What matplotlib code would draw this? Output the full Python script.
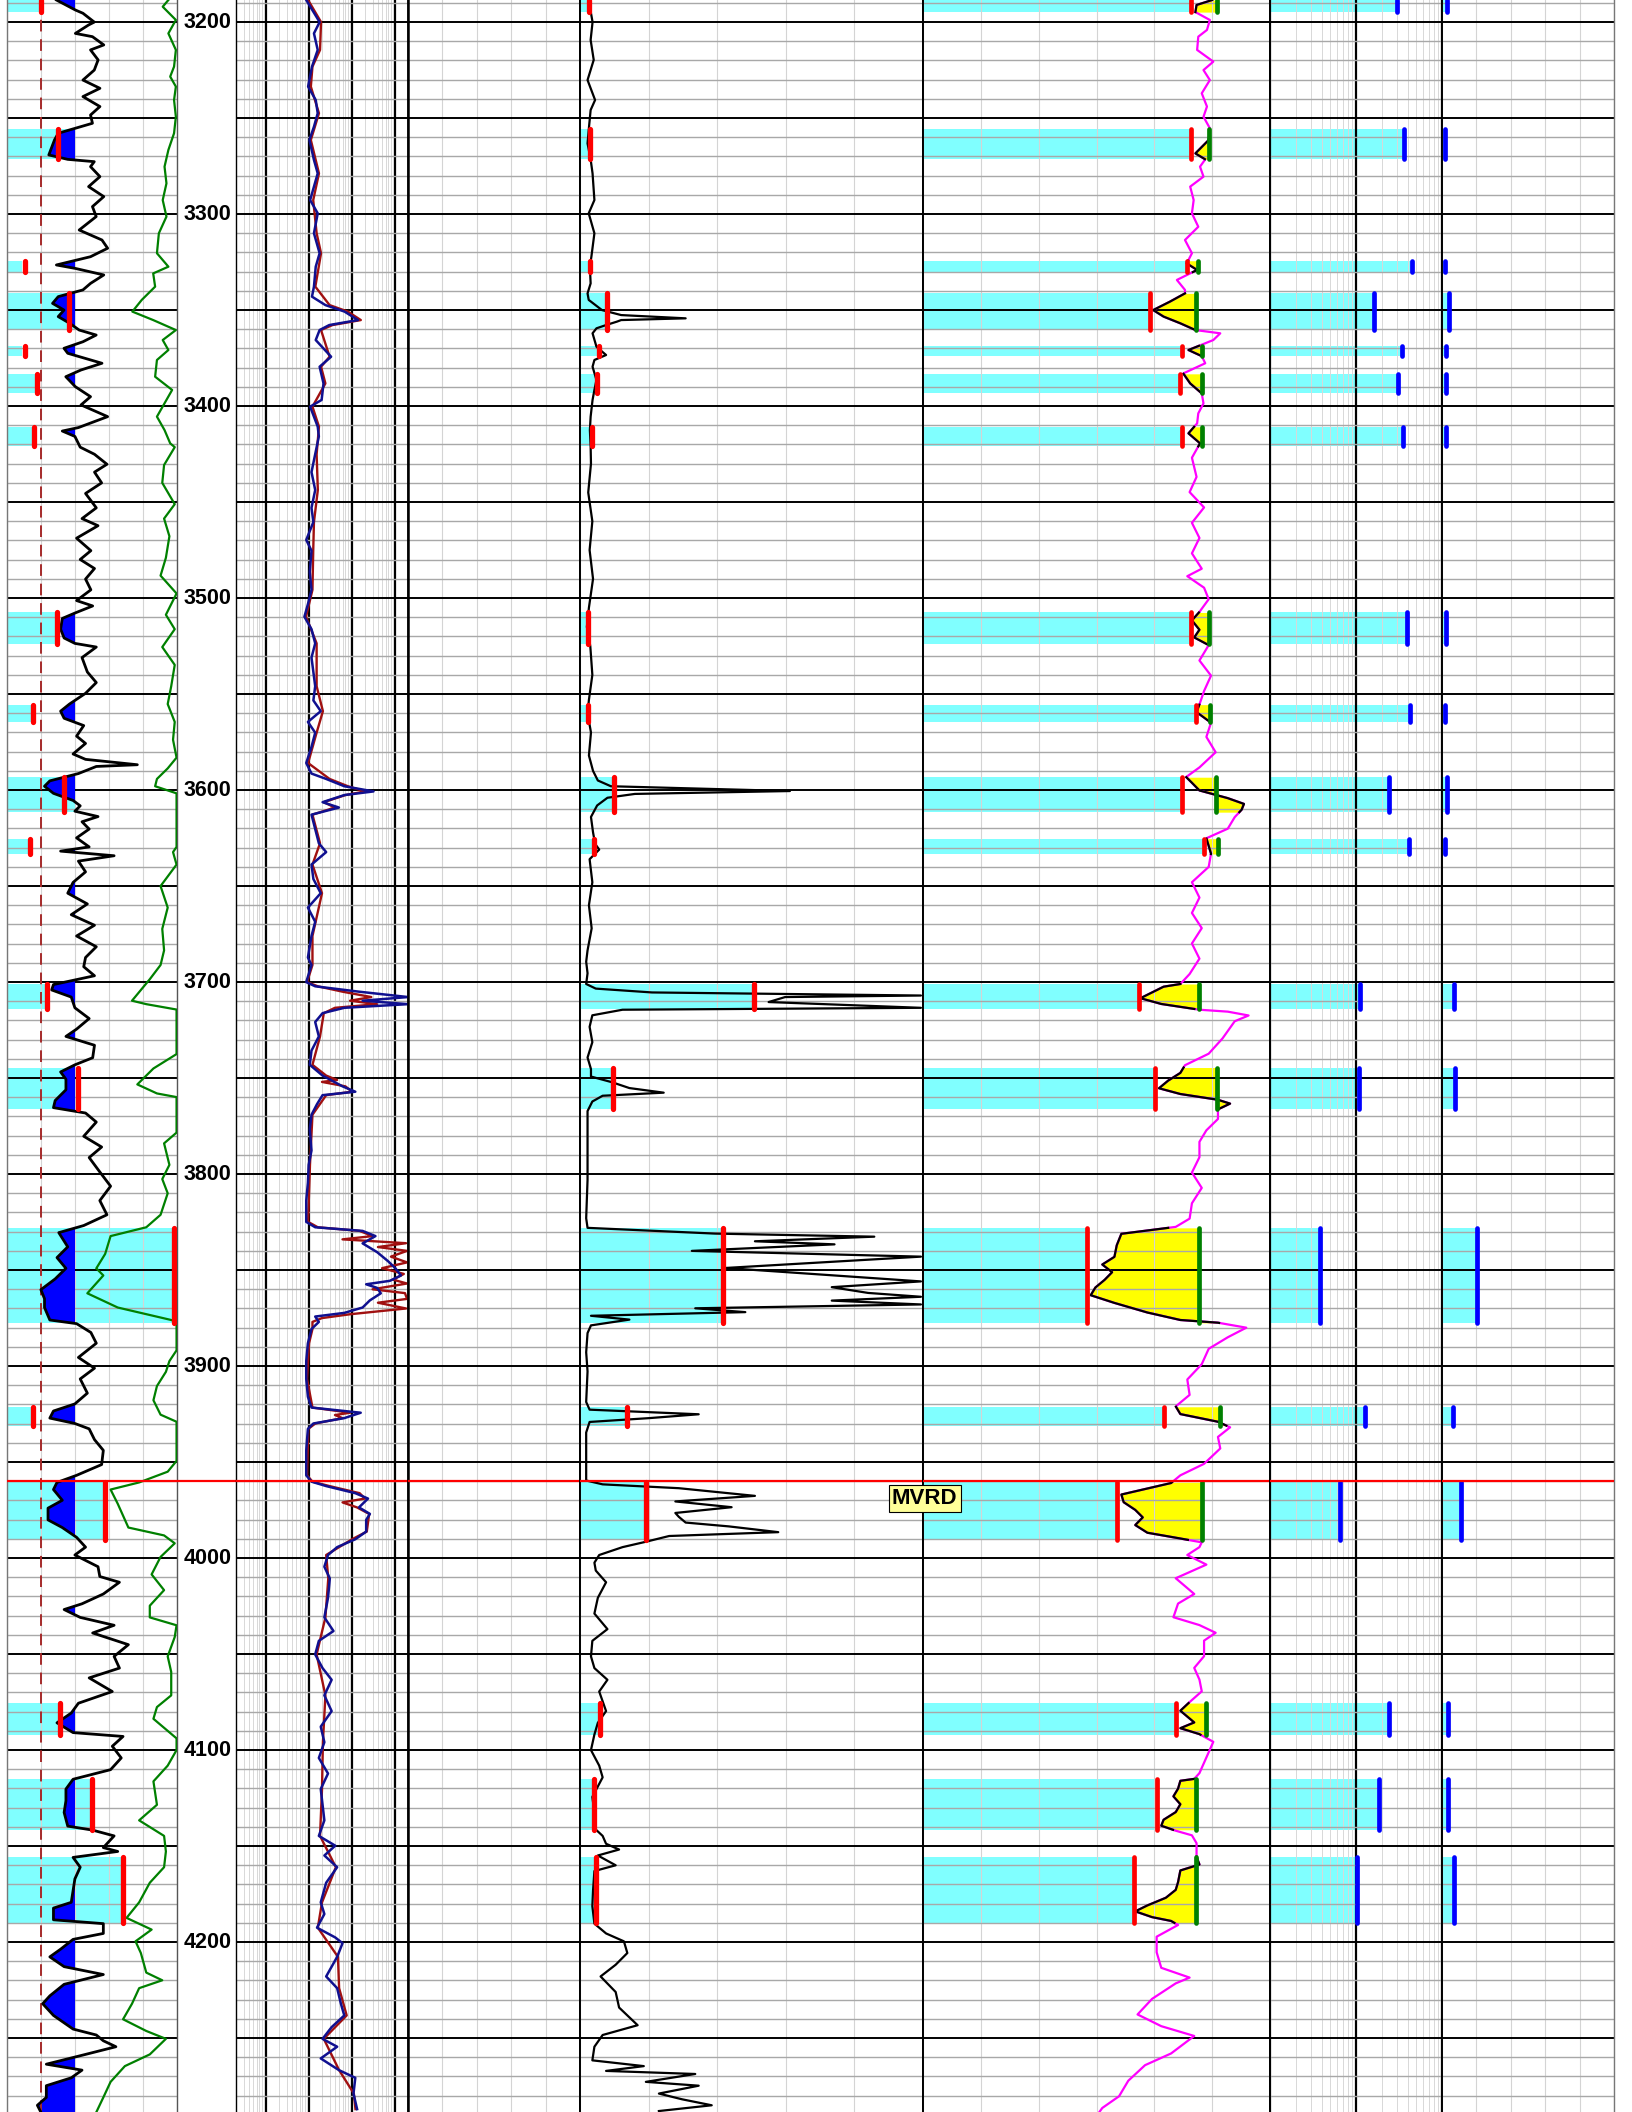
import numpy as np
import matplotlib.pyplot as plt
from matplotlib.ticker import MultipleLocator, LogLocator, NullFormatter

plt.rcParams['font.family'] = ['Liberation Sans Narrow', 'Liberation Sans', 'DejaVu Sans']

top_depth = 3188.5
base_depth = 4288.5
mvrd_depth = 3960.0
depth_labels = list(range(3200, 4201, 100))

# pay zones (top, base) shared by all tracks
zone_top = [3188.5, 3255.8, 3324.3, 3341.3, 3368.6, 3383.2, 3410.8, 3507.5, 3555.5, 3593.3,
            3625.3, 3701.0, 3744.5, 3828.0, 3921.2, 3960.5, 4075.5, 4115.0, 4155.5]
zone_base = [3194.8, 3271.4, 3330.2, 3360.5, 3373.8, 3393.3, 3421.0, 3524.0, 3564.5, 3611.5,
             3633.3, 3714.0, 3766.0, 3877.5, 3931.0, 3990.5, 4092.0, 4141.5, 4190.0]
t1_fill = [29, 60, 13.5, 60, 13.5, 25, 23, 44, 23, 60, 19.5, 35, 60, 147, 22.5, 86.6, 47, 74.6, 102]
t1_tick = [30, 45, 15.7, 54.6, 15.7, 26.8, 24, 44, 23, 50.4, 20, 35.3, 62.4, 147, 23, 86.6, 47, 74.6, 102]
t4_tick = [1.3, 1.4, 1.4, 4.0, 2.8, 2.5, 1.8, 1.1, 1.1, 4.9, 2.0, 25.4, 4.8, 20.8, 6.9, 9.6, 2.9, 2.1, 2.4]
t5_red = [46.4, 46.4, 45.6, 39.3, 44.8, 44.5, 44.7, 46.4, 47.2, 44.7, 48.6, 37.3, 40.1, 28.3, 41.6,
          33.6, 43.7, 40.5, 36.4]
t5_green = [50.9, 49.5, 47.6, 47.2, 48.3, 48.3, 48.2, 49.4, 49.6, 50.6, 51.0, 47.8, 50.9, 47.8, 51.4,
            48.2, 49.0, 47.2, 47.2]
t6_log = [30, 36, 45, 16, 34, 31, 35, 39, 42, 24, 41, 11.2, 10.7, 3.8, 12.6, 6.5, 24, 18.6, 10.2]
t6_lin = [2.9, 2, 2, 4, 2.5, 2.5, 2.2, 2.2, 2, 2.7, 2, 6.8, 7.3, 20.3, 6.2, 10.8, 3.2, 3.5, 6.8]

gr_cut = 60
gr_line = 30

gr = [(3188.5, 43.6), (3193.7, 60.3), (3195.4, 67), (3200, 77), (3201.5, 72), (3205.9, 60.3), (3207.6, 75.4),
      (3211.9, 85.4), (3214.5, 73.7), (3219.7, 80.4), (3225, 77), (3230.2, 67), (3234.5, 82), (3238.8, 67),
      (3244, 82), (3248.4, 73.7), (3252.7, 75.4), (3255.3, 60.3), (3257.9, 45.2), (3261.4, 41.9), (3266.6, 38.5),
      (3269.2, 36.9), (3271.5, 53.6), (3272.7, 77), (3275.3, 73.7), (3280.5, 82), (3285.7, 72), (3290.9, 85.4),
      (3296.1, 75.4), (3301.3, 78.7), (3308.3, 63.7), (3313.5, 83.8), (3317.8, 88.8), (3322.2, 73.7),
      (3326.5, 43.6), (3328.3, 60.3), (3331.7, 85.4), (3336.1, 73.7), (3339.5, 67), (3343, 45.2), (3346.5, 40.2),
      (3350, 50.3), (3353.4, 45.2), (3356.9, 55.3), (3360.4, 63.7), (3363, 78.7), (3366.5, 67), (3369.9, 50.3),
      (3372.5, 53.6), (3377.7, 83.8), (3381.2, 65.3), (3384.7, 51.9), (3389.9, 60.3), (3395.1, 73.7),
      (3399.4, 65.3), (3405.5, 88.8), (3411.2, 63), (3413, 48.8), (3415.8, 59.9), (3421.4, 64.6), (3425.1, 77.2),
      (3430.3, 88.2), (3434.4, 77.2), (3440, 83.5), (3445.5, 69.3), (3453, 78.8), (3458.6, 66.2), (3462.3, 80.3),
      (3468.8, 61.4), (3475.3, 74), (3479.9, 64.6), (3484.6, 77.2), (3490.1, 69.3), (3495.7, 74), (3501.3, 61.4),
      (3504.1, 75.6), (3507.8, 59.9), (3510.6, 48.8), (3516.2, 47.3), (3520.8, 50.4), (3523.6, 59.9),
      (3525.5, 78.8), (3531, 66.2), (3538.5, 70.9), (3544, 78.8), (3549.6, 69.3), (3555.2, 55.1), (3558.9, 47.3),
      (3562.6, 50.4), (3566.4, 67.7), (3571.9, 61.4), (3575.7, 69.3), (3581.2, 58.3), (3584, 69.3), (3586.8, 115),
      (3587.7, 78.8), (3591.4, 63), (3595.2, 37.8), (3598, 33.1), (3601.7, 41), (3605.4, 58.3), (3608.2, 64.6),
      (3611, 59.9), (3613.8, 80.3), (3616.5, 66.2), (3620.3, 72.5), (3624.9, 61.4), (3629.6, 72.5), (3631.8, 47.3),
      (3634.2, 94.5), (3637, 63), (3642.6, 69.3), (3648.1, 58.3), (3653.7, 53.6), (3659.3, 70.9), (3664.9, 56.7),
      (3670.4, 77.2), (3676, 61.4), (3681.6, 78.8), (3687.2, 69.3), (3692, 67.7), (3696.7, 77.2), (3701.3, 41),
      (3704.1, 39.4), (3707.8, 56.7), (3713.4, 59.9), (3719, 72.5), (3724.5, 61.4), (3728.3, 52), (3732.9, 77.2),
      (3739.4, 75.6), (3743.1, 59.9), (3746.8, 47.3), (3750.6, 52), (3756.1, 52), (3761.7, 42.5), (3765.4, 41),
      (3768.2, 69.3), (3772.9, 78.8), (3780.3, 67.7), (3785.9, 83.5), (3791.4, 72.5), (3798.9, 81.9),
      (3806.3, 91.4), (3813.8, 81.9), (3821.2, 88.2), (3826.8, 67.7), (3830.5, 45.7), (3837.9, 53.6),
      (3843.5, 44.1), (3849.1, 52), (3854.6, 42.5), (3860.2, 29.9), (3864.9, 33.1), (3869.5, 33.1), (3876, 37.8),
      (3877.9, 61.4), (3882.5, 74), (3888.1, 78.8), (3895.5, 63), (3901.1, 77.2), (3906.7, 64.6), (3914.1, 70.9),
      (3919.7, 59.9), (3923.4, 41), (3927.1, 37.8), (3929.9, 59.9), (3932.7, 72.5), (3938.3, 77.2), (3943.9, 85),
      (3951.3, 83.5), (3956.9, 61.4), (3960.6, 44.1), (3964.3, 41), (3969.9, 48.8), (3974, 36.2), (3980.1, 36.2),
      (3984.1, 48.8), (3989.2, 61.4), (3994.3, 69.3), (3998.4, 59.9), (4004.5, 80.3), (4009.6, 81.9),
      (4012.6, 99.2), (4018.7, 85), (4023.8, 66.2), (4026.8, 50.4), (4030.9, 64.6), (4035, 94.5), (4039, 75.6),
      (4045.1, 107.1), (4051.2, 94.5), (4057.3, 99.2), (4062.4, 72.5), (4069.5, 92.9), (4075.6, 63),
      (4080.7, 56.7), (4085.8, 44.1), (4090.9, 58.3), (4092.9, 102.4), (4098, 92.9), (4104.1, 100.8),
      (4110.2, 91.4), (4115.2, 58.3), (4120.3, 52), (4126.4, 52), (4132.5, 50.4), (4139.6, 53.6), (4141.7, 75.6),
      (4144.7, 94.5), (4150.8, 85), (4152.8, 97.7), (4155.9, 58.3), (4161, 64.6), (4167.1, 59.9), (4173.2, 58.3),
      (4179.3, 56.7), (4182.3, 41), (4188.4, 41), (4190.4, 85), (4195.5, 85), (4198.6, 58.3), (4203.7, 47.3),
      (4207.7, 37.8), (4212.8, 50.4), (4216.9, 85), (4222, 50.4), (4228, 37.8), (4232.1, 31.5), (4238.2, 41),
      (4245.3, 58.3), (4248.4, 78.8), (4251.4, 85), (4254.5, 96.1), (4258.5, 69.3), (4263.6, 34.7),
      (4266.7, 66.2), (4270.7, 56.7), (4274.8, 34.7), (4280.9, 34.7), (4285, 26.8), (4288.6, 29.9)]

sp = [(3188.5, 142.4), (3192, 137.4), (3198.9, 149), (3205.9, 142.4), (3214.5, 149), (3223.2, 147.4),
      (3228.4, 144), (3233.6, 149), (3240.6, 147.4), (3249.3, 149), (3257.9, 147.4), (3266.6, 142.4),
      (3275.3, 139), (3284, 140.7), (3292.7, 137.4), (3301.3, 140.7), (3310, 134), (3320.4, 132.3),
      (3327.4, 142.4), (3330.9, 129), (3337.8, 130.7), (3344.7, 118.9), (3350.8, 110.6), (3355.2, 129),
      (3360.4, 149), (3365.6, 137.4), (3370.8, 142.4), (3376, 132.3), (3384.7, 130.7), (3391.6, 145.7),
      (3398.6, 139), (3405.5, 132.3), (3412.5, 139), (3419.4, 144), (3421.4, 148), (3430.7, 138.6), (3440, 137),
      (3451.1, 148), (3458.6, 138.6), (3467.8, 143.3), (3479, 140.2), (3488.3, 135.5), (3497.6, 149.6),
      (3508.7, 140.2), (3516.2, 148), (3525.5, 137), (3534.8, 148), (3545.9, 144.9), (3555.2, 141.8),
      (3564.5, 148), (3573.8, 146.5), (3583.1, 149.6), (3588.7, 141.8), (3594.2, 132.3), (3598, 130.7),
      (3601.7, 149.6), (3629.6, 149.6), (3632.3, 146.5), (3638.8, 149.6), (3650, 135.5), (3661.2, 141.8),
      (3672.3, 137), (3683.5, 138.6), (3691.1, 135.5), (3698.5, 126), (3704.1, 118.1), (3709.7, 110.3),
      (3711.5, 122.9), (3714.3, 149.6), (3737.5, 149.6), (3745, 129.2), (3753.3, 115), (3758, 132.3),
      (3759.9, 149.6), (3778.4, 149.6), (3784, 138.6), (3795.2, 143.3), (3802.6, 137), (3810, 141.8),
      (3821.2, 135.5), (3827.7, 122.9), (3832.3, 91.4), (3841.6, 86.6), (3849.1, 78.8), (3852.8, 85),
      (3862.1, 70.9), (3869.5, 97.7), (3876, 144.9), (3877, 149.6), (3891.8, 149.6), (3897.4, 143.3),
      (3903, 140.2), (3910.4, 132.3), (3917.8, 129.2), (3925.3, 135.5), (3929, 149.6), (3949.4, 149.6),
      (3955, 141.8), (3960.6, 116.6), (3964.3, 91.4), (3971.7, 97.7), (3984.1, 107.1), (3988.2, 138.6),
      (3992.3, 148), (3999.4, 135.5), (4008.5, 127.6), (4016.7, 138.6), (4024.8, 126), (4030.9, 126),
      (4035, 149.6), (4041.1, 148), (4051.2, 141.8), (4059.3, 144.9), (4071.5, 144.9), (4077.6, 132.3),
      (4083.7, 129.2), (4093.9, 149.6), (4100, 149.6), (4108.1, 141.8), (4116.3, 129.2), (4128.5, 132.3),
      (4136.6, 116.6), (4144.7, 138.6), (4152.8, 140.2), (4161, 138.6), (4169.1, 126), (4179.3, 116.6),
      (4187.4, 105.5), (4193.5, 127.6), (4199.6, 113.4), (4205.7, 118.1), (4215.9, 122.9), (4219.9, 137),
      (4224, 116.6), (4232.1, 110.3), (4240.2, 102.4), (4246.3, 122.9), (4250.4, 140.2), (4258.5, 126),
      (4264.6, 104), (4272.8, 91.4), (4280.9, 85), (4288.6, 78.8)]

res_deep = [(3188.5, 8.6), (3200, 17.6), (3205.9, 13), (3214.5, 15.9), (3223.2, 11.7), (3233.6, 9.5),
            (3240.6, 14.3), (3247.5, 15.9), (3254.5, 13), (3261.4, 10.2), (3271.8, 13), (3278.8, 15.9),
            (3285.7, 13), (3292.7, 10.6), (3299.6, 15.9), (3310, 13), (3320.4, 17.6), (3327.4, 14.3),
            (3337.8, 13), (3343, 11.7), (3347.4, 24), (3350.8, 67), (3355.2, 137), (3357.8, 29.5), (3360.4, 17.6),
            (3365.6, 14.3), (3374.3, 32.6), (3379.5, 17.6), (3388.2, 21.7), (3396.8, 19.6), (3400.3, 10.6),
            (3410.7, 15.9), (3415.8, 16.9), (3425.1, 13.9), (3434.4, 11.4), (3443.7, 13.9), (3453, 11.4),
            (3460.4, 12.6), (3469.7, 8.6), (3475.3, 11.4), (3486.4, 10.4), (3495.7, 11.4), (3503.2, 9.4),
            (3509.7, 7.8), (3516.2, 11.4), (3523.6, 13.9), (3531, 11.4), (3538.5, 12.6), (3545.9, 13.9),
            (3553.3, 12.6), (3558.9, 18.7), (3564.5, 9.4), (3570.1, 13.9), (3577.5, 11.4), (3585.9, 8.6),
            (3591.4, 11.4), (3594.2, 25), (3598, 66), (3600.7, 315), (3602.6, 66), (3606.3, 20.6), (3609.1, 49.6),
            (3612.8, 11.4), (3620.3, 13.9), (3627.7, 16.9), (3632.3, 25), (3638.8, 11.4), (3646.3, 12.6),
            (3653.7, 18.7), (3661.2, 9.4), (3668.6, 13.9), (3676, 11.4), (3687.2, 9.4), (3691.1, 11.4),
            (3700, 8.6), (3702.2, 13.9), (3705, 145), (3707.8, 2000), (3709.7, 176), (3711.5, 2000),
            (3713.4, 66), (3716.2, 20.6), (3720.8, 13.9), (3728.3, 16.9), (3735.7, 11.4), (3743.1, 10.4),
            (3748.7, 20.6), (3754.3, 60), (3757.1, 119), (3758.9, 20.6), (3763.6, 15.3), (3769.1, 11.4),
            (3776.6, 10.4), (3787.7, 11.4), (3795.2, 9.8), (3804.5, 9.4), (3813.8, 8.6), (3824.9, 8.6),
            (3827.7, 13.9), (3829.6, 176), (3832.3, 350), (3836.1, 176), (3840.7, 385), (3845.4, 690),
            (3849.1, 1020), (3852.8, 1370), (3855.6, 755), (3857.4, 213), (3859.3, 385), (3862.1, 466),
            (3865.8, 259), (3869.5, 176), (3872.3, 66), (3874.2, 13.9), (3877, 16.9), (3880.7, 11.4),
            (3888.1, 9.4), (3897.4, 8.6), (3906.7, 8.6), (3916, 9.4), (3921.6, 11.4), (3924.3, 159),
            (3927.1, 66), (3929.9, 12.6), (3932.7, 9.4), (3943.9, 8.6), (3956.9, 8.6), (3960.2, 11.4),
            (3962.5, 25), (3966.2, 119), (3969, 235), (3973.6, 145), (3977, 260), (3980.1, 213), (3986.2, 213),
            (3990.2, 119), (3994.3, 45), (3998.4, 27.6), (4004.5, 22.7), (4010.6, 30.4), (4020.7, 27.6),
            (4030.9, 22.7), (4038, 37), (4043.1, 16.9), (4050.2, 13.9), (4057.3, 20.6), (4063.4, 33.5),
            (4071.5, 22.7), (4079.7, 33.5), (4087.8, 18.7), (4095.9, 22.7), (4104.1, 16.9), (4112.2, 27.6),
            (4120.3, 18.7), (4128.5, 20.6), (4136.6, 22.7), (4144.7, 16.9), (4149.8, 40.7), (4154.9, 22.7),
            (4161, 45), (4169.1, 25), (4179.3, 18.7), (4185.4, 22.7), (4192.5, 15.3), (4197.6, 40.7),
            (4200.6, 60), (4207.7, 45), (4217.9, 25), (4224, 45), (4232.1, 55), (4238.2, 66), (4244.3, 33.5),
            (4250.4, 20.6), (4254.5, 45), (4260.6, 18.7), (4266.7, 49.6), (4270.7, 119), (4278.9, 108),
            (4287, 131)]

res_shallow = [(3188.5, 9.5), (3200, 19), (3214.5, 18), (3223.2, 12), (3233.6, 11), (3247.5, 17), (3261.4, 11),
               (3278.8, 17), (3292.7, 12.5), (3310, 15), (3320.4, 19), (3337.8, 14), (3347.4, 30), (3350.8, 80),
               (3355.2, 160), (3357.8, 35), (3360.4, 19), (3374.3, 30), (3379.5, 19), (3388.2, 24), (3400.3, 12),
               (3410.7, 17), (3425.1, 15), (3443.7, 16), (3460.4, 13), (3475.3, 12.5), (3495.7, 12),
               (3509.7, 8.5), (3523.6, 15), (3545.9, 15), (3558.9, 21), (3570.1, 15), (3585.9, 9.5), (3594.2, 30),
               (3598, 80), (3600.7, 200), (3602.6, 70), (3606.3, 22), (3609.1, 40), (3612.8, 12), (3627.7, 18),
               (3638.8, 12), (3653.7, 20), (3676, 12), (3691.1, 12), (3700, 9), (3702.2, 16), (3705, 60),
               (3707.8, 280), (3709.7, 90), (3711.5, 380), (3713.4, 40), (3716.2, 22), (3728.3, 18), (3743.1, 12),
               (3748.7, 25), (3751, 45), (3752, 20), (3754.3, 70), (3757.1, 100), (3758.9, 25), (3769.1, 12),
               (3795.2, 10.5), (3824.9, 9.5), (3827.7, 16), (3829.6, 150), (3832.3, 300), (3834, 60),
               (3836, 1800), (3838, 400), (3840, 1900), (3843, 800), (3846, 1900), (3849, 500), (3852, 1600),
               (3855, 900), (3857, 1900), (3860, 300), (3862, 1700), (3865, 1900), (3867, 400), (3870, 1800),
               (3873, 90), (3875, 20), (3877, 12), (3880.7, 12), (3888.1, 10), (3906.7, 9), (3921.6, 12),
               (3924.3, 90), (3925.5, 40), (3927.1, 60), (3929.9, 14), (3932.7, 9.6), (3956.9, 9), (3960.2, 12),
               (3962.5, 30), (3966.2, 150), (3969, 200), (3971, 60), (3973.6, 130), (3977, 250), (3986.2, 220),
               (3990.2, 100), (3998.4, 25), (4010.6, 28), (4030.9, 24), (4050.2, 15), (4071.5, 24), (4095.9, 21),
               (4120.3, 20), (4144.7, 18), (4161, 42), (4179.3, 20), (4192.5, 16), (4207.7, 47), (4224, 50),
               (4238.2, 75), (4250.4, 22), (4266.7, 50), (4278.9, 110), (4287, 120)]

perm = [(3188.5, 1.27), (3200, 1.83), (3209.3, 1.55), (3219.7, 2.0), (3230.2, 1.1), (3240.6, 2.2), (3245.8, 1.55),
        (3256.2, 1.27), (3263.2, 1.1), (3271.5, 1.55), (3278.8, 1.83), (3292.7, 2.1), (3299.6, 1.27), (3310, 2.1),
        (3322.2, 1.66), (3327.4, 1.44), (3336.1, 1.55), (3341.3, 1.1), (3344.7, 1.27), (3350, 3.2), (3352.6, 6.0),
        (3354.3, 15.4), (3355.2, 6.0), (3356, 5.4), (3357.8, 3.8), (3359.5, 2.4), (3362.1, 1.83), (3369.1, 2.4),
        (3373.4, 3.8), (3376, 2.1), (3379.5, 1.83), (3386.4, 2.4), (3391.6, 2.1), (3396.8, 1.83), (3405.5, 1.55),
        (3412.5, 1.44), (3421.1, 1.55), (3430, 1.6), (3445, 1.2), (3460, 1.8), (3475, 1.4), (3490, 1.9),
        (3505, 1.3), (3515, 1.0), (3525, 1.5), (3540, 1.8), (3553, 1.3), (3560, 1.1), (3570, 1.6), (3582, 1.3),
        (3590, 1.9), (3595, 2.6), (3598, 4.5), (3600.5, 30.6), (3602, 8.0), (3604, 4.0), (3608, 2.5),
        (3614, 1.6), (3622, 1.9), (3628, 2.2), (3631, 2.8), (3636, 1.4), (3648, 1.8), (3660, 1.3), (3672, 1.7),
        (3683.5, 1.1), (3689.4, 0.9), (3695.4, 1.1), (3701, 0.9), (3703.4, 2.3), (3705.4, 10.5), (3707, 49.7),
        (3707.8, 29.9), (3710.4, 27.5), (3713.4, 49.7), (3714.4, 6.2), (3717.3, 1.8), (3723.3, 1.4),
        (3731.3, 1.8), (3739.3, 1.1), (3745.3, 1.6), (3749.2, 1.6), (3752.2, 4.7), (3755.2, 7.2),
        (3757.6, 12.2), (3759.2, 3.3), (3762.2, 1.8), (3767.2, 1.1), (3783.1, 1.1), (3803.1, 1.1), (3823, 0.9),
        (3828, 1.1), (3831, 19.7), (3832.6, 42.9), (3835, 25.5), (3836.6, 37.1), (3840, 16.3), (3843, 49.7),
        (3848.9, 21.2), (3855.9, 49.7), (3858.9, 36.7), (3861.9, 42), (3863.9, 49.7), (3865.9, 36.7),
        (3867.9, 49.7), (3869.9, 16.8), (3871.9, 24.1), (3873.8, 1.6), (3875.8, 7.2), (3878.8, 1.6),
        (3882.8, 1.1), (3892.8, 0.9), (3902.8, 1.1), (3918.7, 0.9), (3922.7, 1.4), (3925.1, 17.3),
        (3927.1, 10.1), (3929.1, 1.4), (3934.6, 0.9), (3942.6, 0.9), (3959.6, 0.9), (3961.6, 3.3),
        (3963.6, 14.4), (3967.6, 25.5), (3970.5, 13.9), (3973.5, 22.1), (3976.5, 13.9), (3978.5, 14.4),
        (3981.5, 15.4), (3983.5, 21.7), (3986.5, 28.9), (3988.5, 13), (3991.5, 9.6), (3994.3, 6.2),
        (3998.4, 2.8), (4002.4, 2.1), (4006.5, 2.3), (4012.6, 3.8), (4020.7, 2.6), (4028.9, 2.1), (4037, 4.0),
        (4043.1, 1.8), (4051.2, 1.6), (4057.3, 2.1), (4063.4, 4.0), (4069.5, 2.8), (4079.7, 3.8), (4085.8, 2.6),
        (4091.9, 2.1), (4100, 1.6), (4108.1, 2.8), (4114.2, 3.3), (4124.4, 1.8), (4132.5, 2.1), (4140.7, 2.1),
        (4144.7, 3.3), (4148.8, 3.8), (4151.8, 5.7), (4154.9, 2.6), (4160, 5.2), (4163, 2.1), (4173.2, 1.9),
        (4181.3, 1.8), (4190.4, 2.1), (4195.5, 3.8), (4199.6, 6.4), (4205.7, 6.9), (4211.8, 5.2), (4217.9, 3.0),
        (4226, 5.2), (4234.1, 5.7), (4243.3, 8.4), (4248.4, 3.3), (4254.5, 2.1), (4261.6, 1.8), (4264.6, 9.3),
        (4267.1, 3.8), (4268.7, 16.8), (4272.8, 9.6), (4274.8, 17.3), (4278.9, 11.5), (4281.9, 14.9),
        (4285, 19.2), (4288, 11.5)]

phi = [(3188.5, 50.0), (3191.1, 47.3), (3194.8, 47.1), (3198.9, 49.6), (3204.1, 49.1), (3207.6, 47.6),
       (3214.5, 47.4), (3220.6, 50.2), (3225, 48.5), (3230.2, 49.6), (3237.1, 48.2), (3244, 49.1),
       (3249.3, 48.5), (3255.3, 49.6), (3261.4, 49.4), (3268.4, 47.1), (3271.5, 48.8), (3275.3, 47.9),
       (3280.5, 48.5), (3285.7, 46.2), (3292.7, 46.8), (3299.6, 46.5), (3306.6, 47.6), (3313.5, 45.3),
       (3320.4, 46.5), (3325.7, 45.6), (3329.1, 47.4), (3334.3, 43.9), (3339.5, 45.3), (3341.3, 45.3),
       (3345.6, 42.7), (3350, 39.8), (3353.4, 41.6), (3356.9, 44.5), (3360.4, 47.1), (3362.1, 51.4),
       (3365.6, 50.2), (3370.8, 45.9), (3374, 48.2), (3377.7, 48.8), (3383, 45.0), (3388.2, 46.2),
       (3393.4, 48.2), (3398.6, 48.5), (3403.8, 47.6), (3409, 47.4), (3414.2, 45.9), (3419.4, 47.9),
       (3426.9, 46.5), (3436.9, 47.3), (3444.8, 46.1), (3452.8, 48.6), (3460.8, 46.5), (3468.7, 47.8),
       (3476.7, 46.5), (3484.7, 48.2), (3488.6, 45.7), (3494.6, 48.6), (3500.6, 49.4), (3507.2, 47.8),
       (3511.6, 46.5), (3516.5, 47.8), (3520.5, 46.9), (3524.5, 49.4), (3532.5, 47.8), (3540.4, 49.8),
       (3548.4, 48.6), (3555.4, 47.8), (3559.4, 47.3), (3564.9, 49.8), (3572.3, 49.0), (3580.3, 50.6),
       (3588.2, 47.8), (3593.2, 45.5), (3596.2, 46.5), (3600.2, 47.8), (3604.2, 52.7), (3607.2, 55.5),
       (3610.2, 55.1), (3614.1, 53.9), (3620.1, 52.7), (3625.1, 49.0), (3629.1, 49.4), (3633.1, 49.8),
       (3640, 49.4), (3648, 46.5), (3656, 47.8), (3664, 46.5), (3671.9, 48.2), (3679.9, 46.5), (3687.8, 47.8),
       (3695.8, 46.1), (3701, 44.5), (3702.4, 41.6), (3705.4, 39.6), (3708.4, 37.6), (3711.4, 41.2),
       (3714.4, 47.8), (3715.4, 52.7), (3717.4, 56.3), (3720.4, 53.9), (3729.3, 51.8), (3737.3, 49.4),
       (3743.3, 45.3), (3747.3, 44.5), (3751.3, 42.4), (3755.3, 40.8), (3758.3, 44.5), (3761.3, 51.0),
       (3763.3, 53.1), (3766.3, 51.0), (3771.3, 51.0), (3777.2, 49.0), (3783.2, 47.8), (3791.2, 47.8),
       (3799.2, 46.5), (3807.2, 48.2), (3815.2, 46.5), (3823.2, 46.1), (3827.5, 43.7), (3831.1, 34.3),
       (3837.1, 33.5), (3843.1, 33.1), (3847.1, 31.0), (3851.1, 32.7), (3855.1, 31.4), (3859.1, 29.8),
       (3863.1, 29.0), (3867.1, 33.1), (3872.1, 38.8), (3876, 44.5), (3877.4, 51.0), (3880, 55.9),
       (3885, 52.7), (3891, 49.4), (3899, 48.2), (3907, 45.7), (3915, 46.1), (3921, 43.7), (3925, 44.5),
       (3929, 51.0), (3931.9, 53.1), (3936.9, 51.0), (3942.9, 51.4), (3950.9, 48.6), (3956.9, 44.5),
       (3960.9, 42.9), (3966.9, 34.3), (3970.9, 34.7), (3974.9, 36.7), (3978.8, 38.0), (3982.8, 36.7),
       (3986.8, 38.8), (3989.8, 44.5), (3991.8, 48.2), (3994.3, 47.8), (3998.4, 45.7), (4003.4, 49.0),
       (4010.5, 43.7), (4018.7, 46.9), (4023.7, 44.1), (4030.8, 43.3), (4034.9, 47.8), (4038.9, 50.6),
       (4043, 48.6), (4051.1, 48.6), (4057.2, 46.9), (4063.3, 47.8), (4069.4, 48.2), (4075, 46.1),
       (4079.5, 44.5), (4085.6, 46.9), (4088.6, 44.5), (4091.7, 47.8), (4095.7, 50.2), (4103.9, 49.0),
       (4112, 47.8), (4115, 46.9), (4116, 44.5), (4120.1, 44.1), (4124.1, 43.3), (4128.2, 44.5), (4132.3, 43.7),
       (4136.3, 41.6), (4139.4, 41.2), (4142, 43.7), (4144.4, 46.5), (4148.5, 47.3), (4155.6, 47.3),
       (4159.6, 47.8), (4162.7, 44.5), (4168.8, 44.1), (4172.8, 43.7), (4176.9, 42.0), (4180.9, 38.8),
       (4184, 36.7), (4187, 39.6), (4189, 42.9), (4191.1, 44.1), (4197.2, 40.4), (4205.3, 40.4), (4213.4, 41.2),
       (4218.5, 46.1), (4221.5, 43.7), (4229.6, 39.6), (4237.7, 37.1), (4243.8, 41.2), (4248.9, 46.9),
       (4258, 42.9), (4264.1, 38.4), (4272.2, 35.5), (4280.3, 33.9), (4286.4, 31.0), (4288.5, 30.5)]

CYAN = '#80ffff'
W = 1632.0
fig = plt.figure(figsize=(16.32, 21.12), dpi=100)


def make_track(x0, x1, lo, hi, step=None, log=False, edge=('black', 'black'), edge_lw=(1.0, 1.0)):
    ax = fig.add_axes([x0 / W, 0.0, (x1 - x0) / W, 1.0])
    if log:
        ax.set_xscale('log')
        ax.xaxis.set_major_locator(LogLocator(base=10, subs=(1.0,)))
        ax.xaxis.set_minor_locator(LogLocator(base=10, subs=np.arange(2, 10)))
        ax.grid(True, axis='x', which='major', color='black', lw=1.6)
        ax.grid(True, axis='x', which='minor', color='#d8d8d8', lw=0.7)
    else:
        ax.xaxis.set_major_locator(MultipleLocator(step))
        ax.grid(True, axis='x', which='major', color='#d4d4d4', lw=0.8)
    ax.set_xlim(lo, hi)
    ax.set_ylim(base_depth, top_depth)
    ax.yaxis.set_major_locator(MultipleLocator(50))
    ax.yaxis.set_minor_locator(MultipleLocator(10))
    ax.grid(True, axis='y', which='major', color='black', lw=1.4)
    ax.grid(True, axis='y', which='minor', color='#a8a8a8', lw=1.0)
    ax.set_axisbelow(True)
    ax.xaxis.set_minor_formatter(NullFormatter())
    ax.tick_params(which='both', length=0, labelbottom=False, labelleft=False)
    ax.spines['top'].set_visible(False)
    ax.spines['bottom'].set_visible(False)
    ax.spines['left'].set_color(edge[0])
    ax.spines['right'].set_color(edge[1])
    ax.spines['left'].set_linewidth(edge_lw[0])
    ax.spines['right'].set_linewidth(edge_lw[1])
    return ax


def clip(curve, t, b):
    d, v = np.array(curve).T
    inside = (d > t) & (d < b)
    dd = np.concatenate([[t], d[inside], [b]])
    vv = np.concatenate([[np.interp(t, d, v)], v[inside], [np.interp(b, d, v)]])
    return dd, vv


def tick(ax, x, t, b, color, lw=3.8):
    ax.plot([x, x], [t, b], color=color, lw=lw, solid_capstyle='round', zorder=5)


ax1 = make_track(7, 177, 0, 150, step=30, edge=('#777777', '#555555'))
axd = fig.add_axes([177 / W, 0.0, 59 / W, 1.0])
ax2 = make_track(236, 408, 0.2, 2000, log=True, edge_lw=(1.0, 1.8))
ax3 = make_track(408, 580, 0, 100, step=20, edge_lw=(1.8, 1.4))
ax4 = make_track(580, 923, 0, 50, step=10, edge_lw=(1.4, 1.4))
ax5 = make_track(923, 1270, 0, 60, step=10, edge_lw=(1.4, 1.4))
ax6 = make_track(1270, 1442, 1, 100, log=True, edge_lw=(1.4, 1.4))
ax7 = make_track(1442, 1614, 0, 100, step=20, edge=('black', '#777777'), edge_lw=(1.4, 1.0))

# depth track
axd.set_xlim(0, 1)
axd.set_ylim(base_depth, top_depth)
axd.axis('off')
for d in depth_labels:
    axd.text(0.52, d, str(d), ha='center', va='center', fontsize=15.5, fontweight='bold')

# track 1: GR + SP
gd, gv = np.array(gr).T
sd, sv = np.array(sp).T
for t, b, f, k in zip(zone_top, zone_base, t1_fill, t1_tick):
    ax1.fill_betweenx([t, b], 0, f, color=CYAN, lw=0, zorder=0.2)
ax1.fill_betweenx(gd, gv, gr_cut, where=gv < gr_cut, interpolate=True, color='#0000ff', lw=0, zorder=1)
ax1.axvline(gr_line, color='#a52a2a', lw=1.4, ls=(0, (6, 4)), zorder=2)
ax1.plot(sv, sd, color='#008000', lw=1.6, zorder=3)
ax1.plot(gv, gd, color='black', lw=2.0, zorder=4)
for t, b, k in zip(zone_top, zone_base, t1_tick):
    tick(ax1, k, t, b, '#ff0000')

# track 2: resistivity
rd, rv = np.array(res_shallow).T
dd, dv = np.array(res_deep).T
ax2.plot(rv, rd, color='#a01010', lw=1.7, zorder=3)
ax2.plot(dv, dd, color='#101090', lw=1.8, zorder=4)

# track 4
pd_, pv = np.array(perm).T
for t, b, k in zip(zone_top, zone_base, t4_tick):
    ax4.fill_betweenx([t, b], 0, k, color=CYAN, lw=0, zorder=0.2)
ax4.plot(pv, pd_, color='black', lw=1.6, zorder=3)
for t, b, k in zip(zone_top, zone_base, t4_tick):
    tick(ax4, k, t, b, '#ff0000')

# track 5
fd, fv = np.array(phi).T
ax5.plot(fv, fd, color='#ff00ff', lw=1.6, zorder=3)
for t, b, r, g in zip(zone_top, zone_base, t5_red, t5_green):
    ax5.fill_betweenx([t, b], 0, r, color=CYAN, lw=0, zorder=0.2)
    zd, zv = clip(phi, t, b)
    ax5.fill_betweenx(zd, zv, g, color='#ffff00', lw=0, zorder=0.3)
    ax5.plot(zv, zd, color='black', lw=1.6, zorder=4)
    tick(ax5, r, t, b, '#ff0000', lw=3.4)
    tick(ax5, g, t, b, '#008000', lw=3.4)

# track 6
for t, b, v1, v2 in zip(zone_top, zone_base, t6_log, t6_lin):
    ax6.fill_betweenx([t, b], 1, v1, color=CYAN, lw=0, zorder=0.2)
    ax7.fill_betweenx([t, b], 0, v2, color=CYAN, lw=0, zorder=0.2)
    tick(ax6, v1, t, b, '#0000ff', lw=3.4)
    tick(ax7, v2, t, b, '#0000ff', lw=3.4)

# formation top
for ax in [ax1, axd, ax2, ax3, ax4, ax5, ax6, ax7]:
    ax.axhline(mvrd_depth, color='#ff0000', lw=1.6, zorder=6)
ax5.text(0.3, 3969, 'MVRD', ha='center', va='center', fontsize=16, fontweight='bold', zorder=10,
         clip_on=False, bbox=dict(boxstyle='square,pad=0.15', fc='#ffff99', ec='black', lw=0.8))

fig.savefig('out.png', dpi=100)
